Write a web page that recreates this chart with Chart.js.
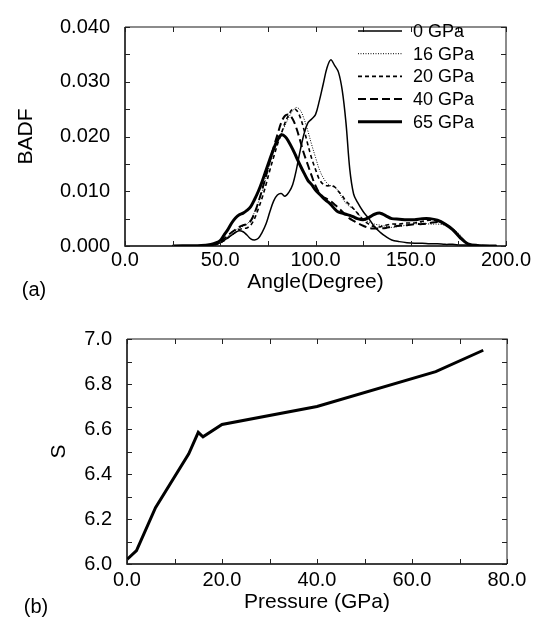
<!DOCTYPE html>
<html>
<head>
<meta charset="utf-8">
<script src="https://cdn.jsdelivr.net/npm/chart.js@4"></script>
<style>
  html, body { margin: 0; padding: 0; background: #fff; }
  .painel { position: absolute; left: 0; width: 544px; height: 312px; }
</style>
</head>
<body>
<div class="painel" style="top:0"><canvas id="grafico_badf" width="544" height="312"></canvas></div>
<div class="painel" style="top:312px"><canvas id="grafico_s" width="544" height="312"></canvas></div>
<script>
// (a) BADF x angulo
var angulos = [25, 40, 45, 48, 50, 52, 54, 56, 58, 60, 62, 64, 66, 68, 70, 72, 74, 76, 78, 80,
    82, 84, 86, 88, 90, 92, 94, 96, 98, 100, 102, 104, 106, 108, 110, 112, 114, 116, 118, 120,
    122, 125, 128, 131, 134, 137, 140, 144, 148, 152, 156, 160, 164, 168, 172, 176, 180, 185, 195];

var badf0 = [0, 0, 0.0001, 0.0003, 0.0006, 0.0010, 0.0015, 0.0020, 0.0025, 0.0028, 0.0026, 0.0020, 0.0013, 0.0011, 0.0014, 0.0025, 0.0040, 0.0062, 0.0082, 0.0093,
    0.0096, 0.0091, 0.0098, 0.0112, 0.0140, 0.0175, 0.0205, 0.0225, 0.0232, 0.0240, 0.0265, 0.0295, 0.0325, 0.0340, 0.0330, 0.0318, 0.0285, 0.0225, 0.0140, 0.0095,
    0.0080, 0.0063, 0.0050, 0.0035, 0.0025, 0.0017, 0.0011, 0.0008, 0.0006, 0.0005, 0.0005, 0.0004, 0.0004, 0.0003, 0.0003, 0.0002, 0.0002, 0.0001, 0];

var badf16 = [0, 0, 0.0002, 0.0004, 0.0008, 0.0013, 0.0018, 0.0024, 0.0029, 0.0033, 0.0036, 0.0040, 0.0048, 0.0062, 0.0080, 0.0100, 0.0125, 0.0150, 0.0172, 0.0190,
    0.0205, 0.0220, 0.0235, 0.0247, 0.0253, 0.0248, 0.0232, 0.0210, 0.0185, 0.0162, 0.0140, 0.0125, 0.0115, 0.0110, 0.0108, 0.0100, 0.0088, 0.0078, 0.0072, 0.0068,
    0.0060, 0.0050, 0.0044, 0.0040, 0.0038, 0.0036, 0.0034, 0.0036, 0.0038, 0.0040, 0.0042, 0.0040, 0.0040, 0.0038, 0.0032, 0.0020, 0.0005, 0.0001, 0];

var badf20 = [0, 0, 0.0001, 0.0003, 0.0006, 0.0010, 0.0015, 0.0020, 0.0025, 0.0030, 0.0032, 0.0033, 0.0038, 0.0050, 0.0068, 0.0088, 0.0112, 0.0138, 0.0162, 0.0185,
    0.0205, 0.0225, 0.0240, 0.0250, 0.0248, 0.0235, 0.0212, 0.0185, 0.0160, 0.0140, 0.0122, 0.0113, 0.0110, 0.0110, 0.0108, 0.0100, 0.0092, 0.0082, 0.0075, 0.0068,
    0.0060, 0.0048, 0.0040, 0.0035, 0.0035, 0.0038, 0.0040, 0.0040, 0.0042, 0.0042, 0.0045, 0.0047, 0.0046, 0.0040, 0.0030, 0.0017, 0.0004, 0.0001, 0];

var badf40 = [0, 0, 0.0002, 0.0004, 0.0008, 0.0013, 0.0019, 0.0025, 0.0030, 0.0035, 0.0038, 0.0040, 0.0046, 0.0060, 0.0080, 0.0103, 0.0128, 0.0155, 0.0180, 0.0203,
    0.0225, 0.0238, 0.0240, 0.0232, 0.0215, 0.0192, 0.0168, 0.0148, 0.0128, 0.0110, 0.0097, 0.0090, 0.0086, 0.0082, 0.0076, 0.0070, 0.0063, 0.0056, 0.0050, 0.0046,
    0.0042, 0.0037, 0.0033, 0.0032, 0.0032, 0.0033, 0.0035, 0.0037, 0.0038, 0.0040, 0.0040, 0.0042, 0.0044, 0.0040, 0.0030, 0.0016, 0.0004, 0.0001, 0];

var badf65 = [0, 0.0001, 0.0003, 0.0006, 0.0010, 0.0020, 0.0030, 0.0042, 0.0051, 0.0057, 0.0060, 0.0065, 0.0072, 0.0085, 0.0100, 0.0118, 0.0138, 0.0158, 0.0177, 0.0193,
    0.0203, 0.0200, 0.0190, 0.0177, 0.0162, 0.0147, 0.0133, 0.0120, 0.0112, 0.0102, 0.0095, 0.0088, 0.0082, 0.0076, 0.0068, 0.0062, 0.0060, 0.0058, 0.0056, 0.0053,
    0.0050, 0.0048, 0.0052, 0.0058, 0.0060, 0.0055, 0.0050, 0.0049, 0.0048, 0.0048, 0.0050, 0.0050, 0.0047, 0.0040, 0.0030, 0.0015, 0.0004, 0.0001, 0];

var rotulos = ['0 GPa', '16 GPa', '20 GPa', '40 GPa', '65 GPa'];

// (b) S x pressao
var pressoes = [0, 2, 6, 13, 15, 16, 20, 40, 65, 75];
var valoresS = [6.02, 6.06, 6.25, 6.49, 6.585, 6.565, 6.62, 6.70, 6.855, 6.95];

var fonte = '"Liberation Sans", Arial, Helvetica, sans-serif';

function pontos(xs, ys) {
    var lista = [];
    for (var i = 0; i < xs.length; i++) {
        lista.push({x: xs[i], y: ys[i]});
    }
    return lista;
}

// moldura com ticks para dentro nos quatro lados
var moldura = {
    id: 'moldura',
    afterDraw: function (chart, args, opts) {
        var ctx = chart.ctx;
        var a = chart.chartArea;
        var sx = chart.scales.x, sy = chart.scales.y;
        ctx.save();
        ctx.lineWidth = 1.5;
        ctx.strokeStyle = '#666';
        ctx.beginPath();
        ctx.moveTo(a.left, a.top); ctx.lineTo(a.right, a.top); ctx.lineTo(a.right, a.bottom);
        ctx.stroke();
        ctx.strokeStyle = '#000';
        ctx.beginPath();
        ctx.moveTo(a.left, a.top); ctx.lineTo(a.left, a.bottom); ctx.lineTo(a.right, a.bottom);
        ctx.stroke();
        ctx.lineWidth = 1;
        ctx.strokeStyle = '#222';
        var passoX = opts.passoX / 2, passoY = opts.passoY / 2;
        ctx.beginPath();
        for (var v = sx.min; v <= sx.max + 1e-9; v += passoX) {
            var px = Math.round(sx.getPixelForValue(v)) + 0.5;
            ctx.moveTo(px, a.bottom); ctx.lineTo(px, a.bottom - 5);
            ctx.moveTo(px, a.top); ctx.lineTo(px, a.top + 5);
        }
        for (var w = sy.min; w <= sy.max + 1e-9; w += passoY) {
            var py = Math.round(sy.getPixelForValue(w)) + 0.5;
            ctx.moveTo(a.left, py); ctx.lineTo(a.left + 5, py);
            ctx.moveTo(a.right, py); ctx.lineTo(a.right - 5, py);
        }
        ctx.stroke();
        // letra do painel
        ctx.fillStyle = '#000';
        ctx.font = '20px ' + fonte;
        ctx.textAlign = 'center';
        ctx.textBaseline = 'middle';
        ctx.fillText(opts.letra, opts.letraX, opts.letraY);
        ctx.restore();
    }
};

// legenda desenhada dentro da area do grafico
var legendaLinhas = {
    id: 'legendaLinhas',
    afterDraw: function (chart, args, opts) {
        if (!opts.mostrar) return;
        var ctx = chart.ctx;
        ctx.save();
        ctx.font = '18px ' + fonte;
        ctx.fillStyle = '#000';
        ctx.textAlign = 'left';
        ctx.textBaseline = 'middle';
        chart.data.datasets.forEach(function (ds, i) {
            var y = opts.y + i * opts.passo;
            ctx.strokeStyle = ds.borderColor;
            ctx.lineWidth = ds.borderWidth;
            ctx.setLineDash(ds.borderDash || []);
            ctx.beginPath();
            ctx.moveTo(opts.x1, y); ctx.lineTo(opts.x2, y);
            ctx.stroke();
            ctx.setLineDash([]);
            ctx.fillText(ds.label, opts.xTexto, y + 1);
        });
        ctx.restore();
    }
};

function estiloEixo(titulo, padTitulo) {
    return {
        display: true,
        text: titulo,
        color: '#000',
        font: {family: fonte, size: 21},
        padding: padTitulo
    };
}

var estilos = [
    {borderWidth: 1.5, borderDash: []},
    {borderWidth: 1, borderDash: [1, 1.5]},
    {borderWidth: 1.6, borderDash: [4, 3]},
    {borderWidth: 2, borderDash: [8, 4]},
    {borderWidth: 3, borderDash: []}
];
var series = [badf0, badf16, badf20, badf40, badf65];
var datasets = [];
for (var i = 0; i < series.length; i++) {
    datasets.push({
        label: rotulos[i],
        data: pontos(angulos, series[i]),
        borderColor: '#000',
        borderWidth: estilos[i].borderWidth,
        borderDash: estilos[i].borderDash,
        pointRadius: 0,
        tension: 0.35,
        fill: false,
        order: series.length - i   // curva grossa desenhada primeiro
    });
}

new Chart(document.getElementById('grafico_badf'), {
    type: 'line',
    data: {datasets: datasets},
    options: {
        responsive: false,
        animation: false,
        layout: {padding: {top: 15, right: 38, left: 0, bottom: 0}},
        plugins: {
            legend: {display: false},
            tooltip: {enabled: false},
            moldura: {passoX: 50, passoY: 0.01, letra: '(a)', letraX: 34, letraY: 290},
            legendaLinhas: {mostrar: true, x1: 358, x2: 402, xTexto: 413, y: 31, passo: 22.7}
        },
        scales: {
            x: {
                type: 'linear', min: 0, max: 200,
                grid: {display: false, drawTicks: false}, border: {display: false},
                ticks: {stepSize: 50, maxRotation: 0, padding: 2, color: '#000',
                    font: {family: fonte, size: 20},
                    callback: function (v) { return v.toFixed(1); }},
                title: estiloEixo('Angle(Degree)', {top: 0, bottom: 17}),
                afterFit: function (s) { s.height = 66; }
            },
            y: {
                min: 0, max: 0.04,
                grid: {display: false, drawTicks: false}, border: {display: false},
                ticks: {stepSize: 0.01, padding: 15, color: '#000',
                    font: {family: fonte, size: 20},
                    callback: function (v) { return v.toFixed(3); }},
                title: estiloEixo('BADF', {top: 14, bottom: 0}),
                afterFit: function (s) { s.width = 125; }
            }
        }
    },
    plugins: [moldura, legendaLinhas]
});

new Chart(document.getElementById('grafico_s'), {
    type: 'line',
    data: {
        datasets: [{
            label: 'S',
            data: pontos(pressoes, valoresS),
            borderColor: '#000',
            borderWidth: 3,
            pointRadius: 0,
            tension: 0,
            fill: false
        }]
    },
    options: {
        responsive: false,
        animation: false,
        layout: {padding: {top: 21, right: 37, left: 0, bottom: 0}},
        plugins: {
            legend: {display: false},
            tooltip: {enabled: false},
            moldura: {passoX: 20, passoY: 0.2, letra: '(b)', letraX: 36, letraY: 295},
            legendaLinhas: {mostrar: false}
        },
        scales: {
            x: {
                type: 'linear', min: 0, max: 80,
                grid: {display: false, drawTicks: false}, border: {display: false},
                ticks: {stepSize: 20, maxRotation: 0, padding: 4, color: '#000',
                    font: {family: fonte, size: 20},
                    callback: function (v) { return v.toFixed(1); }},
                title: estiloEixo('Pressure (GPa)', {top: 0, bottom: 9}),
                afterFit: function (s) { s.height = 60; }
            },
            y: {
                min: 6, max: 7,
                grid: {display: false, drawTicks: false}, border: {display: false},
                ticks: {stepSize: 0.2, padding: 15, color: '#000',
                    font: {family: fonte, size: 20},
                    callback: function (v) { return v.toFixed(1); }},
                title: estiloEixo('S', {top: 47, bottom: 0}),
                afterFit: function (s) { s.width = 127; }
            }
        }
    },
    plugins: [moldura]
});
</script>
</body>
</html>
